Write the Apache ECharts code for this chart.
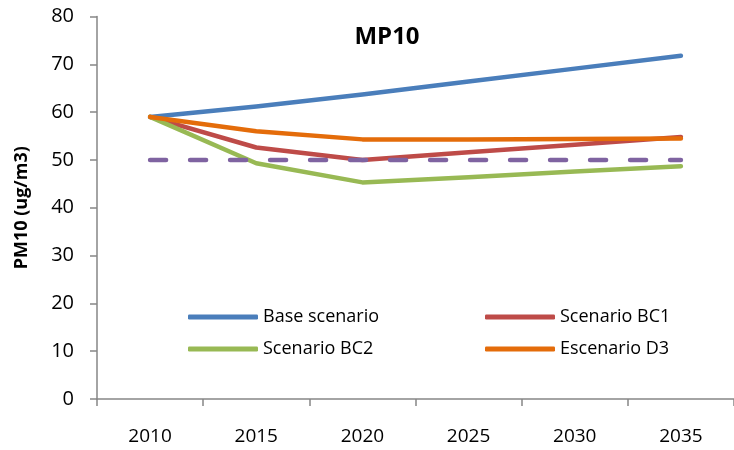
<!DOCTYPE html>
<html>
<head>
<meta charset="utf-8">
<script src="https://cdn.jsdelivr.net/npm/echarts@6/dist/echarts.min.js"></script>
<style>
  html, body { margin: 0; padding: 0; background: #fff; }
  #main { width: 734px; height: 450px; }
</style>
</head>
<body>
<div id="main"></div>
<script>
var years = ['2010', '2015', '2020', '2025', '2030', '2035'];
var baseScenario = [59, 61.2, 63.7, 66.4, 69.1, 71.8];
var scenarioBC1 = [59, 52.6, 50.0, 51.6, 53.2, 54.8];
var scenarioBC2 = [59, 49.3, 45.3, 46.4, 47.6, 48.7];
var escenarioD3 = [59, 56.0, 54.3, 54.3, 54.4, 54.5];
var limitLine = [50, 50, 50, 50, 50, 50];

var font = '"Open Sans", "Noto Sans", sans-serif';
var axisGray = '#868686';

var chartDom = document.getElementById('main');
var myChart = echarts.init(chartDom);
var option;

function lineSeries(name, data, color) {
  return {
    name: name,
    type: 'line',
    data: data,
    symbol: 'none',
    lineStyle: { color: color, width: 4.5, cap: 'round', join: 'round' },
    itemStyle: { color: color },
    animation: false
  };
}

var legendCommon = {
  orient: 'vertical',
  top: 303,
  icon: 'roundRect',
  itemWidth: 70,
  itemHeight: 5,
  itemGap: 14,
  textStyle: { fontFamily: font, fontSize: 18, color: '#000' }
};

option = {
  animation: false,
  title: {
    text: 'MP10',
    left: 382,
    textAlign: 'center',
    top: 20,
    textStyle: { fontFamily: font, fontSize: 24, fontWeight: 'bold', color: '#000' }
  },
  grid: { left: 97, right: -9, top: 16.5, bottom: 51 },
  legend: [
    Object.assign({}, legendCommon, { data: ['Base scenario', 'Scenario BC2'], left: 183 }),
    Object.assign({}, legendCommon, { data: ['Scenario BC1', 'Escenario D3'], left: 480 })
  ],
  xAxis: {
    type: 'category',
    data: years,
    boundaryGap: true,
    axisLine: { lineStyle: { color: axisGray, width: 1.5 } },
    axisTick: { show: true, length: 7, lineStyle: { color: axisGray, width: 1.5 } },
    axisLabel: { fontFamily: font, fontSize: 19, color: '#000', margin: 28 },
    splitLine: { show: false }
  },
  yAxis: {
    type: 'value',
    min: 0,
    max: 80,
    interval: 10,
    name: 'PM10 (ug/m3)',
    nameLocation: 'middle',
    nameGap: 66,
    nameRotate: 90,
    nameTextStyle: { fontFamily: font, fontSize: 18, fontWeight: 'bold', color: '#000' },
    axisLine: { show: true, lineStyle: { color: axisGray, width: 1.5 } },
    axisTick: { show: true, length: 7, lineStyle: { color: axisGray, width: 1.5 } },
    axisLabel: { fontFamily: font, fontSize: 20, color: '#000', margin: 23 },
    splitLine: { show: false }
  },
  series: [
    lineSeries('Base scenario', baseScenario, '#4A7EBB'),
    lineSeries('Scenario BC1', scenarioBC1, '#BE4B48'),
    lineSeries('Scenario BC2', scenarioBC2, '#98B954'),
    lineSeries('Escenario D3', escenarioD3, '#E46C0A'),
    {
      name: 'Limit',
      type: 'line',
      data: limitLine,
      symbol: 'none',
      lineStyle: { color: '#7F63A1', width: 4.5, type: [16, 24], cap: 'round' },
      itemStyle: { color: '#7F63A1' },
      animation: false
    }
  ]
};

option && myChart.setOption(option);
</script>
</body>
</html>
